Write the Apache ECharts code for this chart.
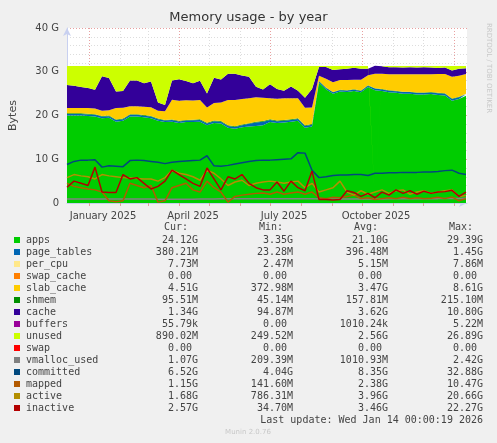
<!DOCTYPE html>
<html>
<head>
<meta charset="utf-8">
<script src="https://cdn.jsdelivr.net/npm/echarts@6/dist/echarts.min.js"></script>
<style>html,body{margin:0;padding:0;background:#f0f0f0}#main{width:497px;height:443px}</style>
</head>
<body>
<div id="main"></div>
<script>
// days since 2024-12-10, one sample per week
var days = [];
for (var d = 0; d < 58; d++) days.push(d * 7);

var TOTAL = 31.3; // physical memory, G

var apps = [20,20,20,19.9,19.8,19.4,19.5,18.6,18.8,19.8,19.8,19.6,19.4,18.8,18.5,18.6,18.3,18.5,18.5,18.6,
  17.8,18.3,18.2,17.2,17.0,17.3,17.5,17.6,17.8,18.5,18.3,18.4,18.6,18.8,17.2,17.5,27.5,26.0,25.0,25.5,
  25.4,25.6,25.3,26.5,25.8,25.6,25.3,25.2,25,25,24.8,24.8,24.9,24.7,24.6,23.4,23.8,24.5];
var pageTables = [0.35,0.35,0.35,0.35,0.35,0.35,0.35,0.35,0.35,0.35,0.35,0.35,0.35,0.35,0.35,0.35,0.35,0.35,0.4,0.4,
  0.4,0.4,0.4,0.4,0.4,0.5,0.6,0.8,0.8,0.5,0.4,0.4,0.4,0.4,0.4,0.4,0.3,0.3,0.3,0.3,
  0.3,0.3,0.3,0.3,0.35,0.35,0.35,0.35,0.35,0.35,0.35,0.35,0.35,0.38,0.38,0.38,0.38,0.38];
var shmem = [0.15,0.15,0.15,0.15,0.15,0.15,0.15,0.15,0.15,0.15,0.15,0.15,0.15,0.15,0.15,0.15,0.15,0.15,0.15,0.15,
  0.15,0.15,0.15,0.15,0.15,0.15,0.15,0.15,0.15,0.15,0.15,0.15,0.15,0.15,0.15,0.15,0.1,0.1,0.1,0.1,
  0.1,0.1,0.1,0.1,0.1,0.1,0.1,0.1,0.1,0.1,0.1,0.1,0.1,0.1,0.1,0.1,0.1,0.1];
var slabCache = [1.2,1.2,1.2,1.3,1.3,1.2,1.2,2.6,2.5,1.8,1.8,1.9,2.0,1.8,2.0,4.5,4.6,4.5,4.4,4.4,
  3.5,4.0,4.2,5.8,6.0,5.8,5.7,5.6,5.3,4.8,5.0,5.0,4.8,4.6,4.0,3.8,1.2,2.0,2.2,2.2,
  2.3,2.2,2.5,2.3,3.3,3.5,3.7,3.8,4.0,4.0,4.2,4.2,4.1,4.3,4.4,5.0,4.8,4.5];
var cache = [5.3,5.1,4.8,4.6,4.3,7.9,7.4,3.8,3.8,5.9,5.9,5.4,5.9,1.9,1.4,4.4,4.9,4.4,3.9,4.4,
  3.2,5.8,5.3,6.0,6.0,5.4,4.9,2.4,1.9,3.2,2.2,1.7,2.7,1.7,2.3,4.2,2.0,2.7,2.8,2.5,
  2.6,2.7,2.5,1.5,1.8,1.7,1.6,1.6,1.5,1.6,1.5,1.6,1.5,1.4,1.5,1.4,1.6,1.3];

var vmalloc = [0.9,0.9,0.9,0.9,0.9,0.9,0.9,0.9,0.9,0.9,0.9,0.9,0.9,0.85,0.85,0.85,0.85,0.85,0.85,0.9,
  0.9,0.9,0.95,0.95,0.95,1.0,1.0,1.0,1.0,1.0,1.0,1.0,1.0,1.0,1.0,1.0,0.9,0.9,0.9,0.9,
  0.9,0.9,0.9,0.9,0.9,0.9,0.95,0.95,0.95,0.95,1.0,1.0,1.0,1.0,1.05,1.05,1.05,1.07];
var committed = [8.8,9.5,9.8,9.8,9.9,8.2,8.5,8.4,8.3,9.7,9.8,9.7,9.5,9.3,9.0,9.3,9.5,9.6,9.7,9.8,
  10.8,8.5,8.4,8.6,8.9,9.2,9.5,9.7,9.8,9.8,9.9,10,10.1,11.5,11.4,7.5,5.8,6.0,6.3,6.4,
  6.4,6.5,6.5,6.3,6.8,6.8,6.9,6.9,7,7,7,7.1,7.1,7.2,7.4,7.5,6.8,6.5];
var mapped = [4.5,3.8,3.5,3.2,3.0,2.5,0.5,0.3,0.5,4.5,4.0,3.5,4.0,0.2,0.5,3.5,4.0,4.5,3.0,2.5,
  5.0,3.5,2.5,0.2,1.5,1.8,2.0,2.2,2.3,2.0,2.5,2.0,2.3,2.5,2.0,2.5,1.2,1.0,1.3,1.2,
  1.5,1.8,1.0,1.2,0.8,1.0,1.2,1.0,1.3,1.0,1.2,1.0,1.1,1.3,1.0,1.4,0.5,1.0];
var active = [5.8,6.5,6.2,6.0,5.5,6.5,6.2,6.0,5.8,5.7,5.6,5.5,5.5,5.0,5.8,7.5,6.8,6.5,6.0,5.2,
  7.5,6.8,5.5,4.0,4.8,5.2,4.0,4.5,4.8,5.0,4.8,4.5,4.8,5.0,3.5,4.5,2.5,3.0,3.5,5.0,
  2.5,1.8,2.8,2.0,2.5,3.0,2.2,2.8,3.0,2.0,2.5,2.8,2.2,2.5,2.8,3.0,1.5,1.7];
var inactive = [3.6,5.0,4.5,4.0,8.2,2.5,2.4,2.4,6.5,5.5,5.8,4.5,3.2,3.8,5.0,7.5,6.5,5.5,4.5,3.8,
  8.0,5.5,3.0,6.0,5.5,6.5,4.5,3.5,3.0,3.0,4.8,2.7,5.0,3.5,2.8,7.3,0.8,0.8,0.7,0.8,
  2.8,2.4,1.5,2.2,1.2,2.5,1.8,3.0,2.2,2.8,2.0,2.7,2.2,2.5,2.6,2.9,1.5,2.5];

var unused = days.map(function (_, i) {
  return +(TOTAL - apps[i] - pageTables[i] - shmem[i] - slabCache[i] - cache[i]).toFixed(2);
});

var monthStarts = [22, 53, 81, 112, 142, 173, 203, 234, 265, 295, 326, 356, 387];
var quarterStarts = [22, 112, 203, 295, 387];
var labelDays = [36, 126, 217, 309];
var labelText = {36: 'January 2025', 126: 'April 2025', 217: 'July 2025', 309: 'October 2025'};

var legendRows = [
  ['apps', '#00cc00', '24.12G', '3.35G', '21.10G', '29.39G'],
  ['page_tables', '#0066b3', '380.21M', '23.28M', '396.48M', '1.45G'],
  ['per_cpu', '#ffe88a', '7.73M', '2.47M', '5.15M', '7.86M'],
  ['swap_cache', '#ff8000', '0.00 ', '0.00 ', '0.00 ', '0.00 '],
  ['slab_cache', '#ffcc00', '4.51G', '372.98M', '3.47G', '8.61G'],
  ['shmem', '#008f00', '95.51M', '45.14M', '157.81M', '215.10M'],
  ['cache', '#330099', '1.34G', '94.87M', '3.62G', '10.80G'],
  ['buffers', '#990099', '55.79k', '0.00 ', '1010.24k', '5.22M'],
  ['unused', '#ccff00', '890.02M', '249.52M', '2.56G', '26.89G'],
  ['swap', '#ff0000', '0.00 ', '0.00 ', '0.00 ', '0.00 '],
  ['vmalloc_used', '#808080', '1.07G', '209.39M', '1010.93M', '2.42G'],
  ['committed', '#00487d', '6.52G', '4.04G', '8.35G', '32.88G'],
  ['mapped', '#b35a00', '1.15G', '141.60M', '2.38G', '10.47G'],
  ['active', '#b38f00', '1.68G', '786.31M', '3.96G', '20.66G'],
  ['inactive', '#b30000', '2.57G', '34.70M', '3.46G', '22.27G']
];

// value first, day second, so the stack runs over the value dimension
function pts(arr) { return days.map(function (x, i) { return [arr[i], x]; }); }

var mono = 'DejaVu Sans Mono';
var graphics = [];
var colRight = [198, 293, 388, 483];
['Cur:', 'Min:', 'Avg:', 'Max:'].forEach(function (h, c) {
  graphics.push({type: 'text', x: colRight[c] - 10, y: 227, style: {text: h, font: '10px ' + mono, fill: '#444', align: 'right', verticalAlign: 'middle'}});
});
legendRows.forEach(function (r, i) {
  var y = 240 + i * 12;
  graphics.push({type: 'rect', shape: {x: 14, y: y - 3, width: 6, height: 6}, style: {fill: r[1]}});
  graphics.push({type: 'text', x: 26, y: y, style: {text: r[0], font: '10px ' + mono, fill: '#444', verticalAlign: 'middle'}});
  for (var c = 0; c < 4; c++) {
    graphics.push({type: 'text', x: colRight[c], y: y, style: {text: r[c + 2], font: '10px ' + mono, fill: '#444', align: 'right', verticalAlign: 'middle'}});
  }
});
graphics.push({type: 'text', x: 483, y: 420, style: {text: 'Last update: Wed Jan 14 00:00:19 2026', font: '10px ' + mono, fill: '#444', align: 'right', verticalAlign: 'middle'}});
graphics.push({type: 'text', x: 248, y: 432, style: {text: 'Munin 2.0.76', font: '7px DejaVu Sans', fill: '#c8c8c8', align: 'center', verticalAlign: 'middle'}});
graphics.push({type: 'text', x: 489, y: 68, rotation: -Math.PI / 2, style: {text: 'RRDTOOL / TOBI OETIKER', font: '7px DejaVu Sans', fill: '#c8c8c8', align: 'center', verticalAlign: 'middle'}});

var areaNames = ['apps', 'page_tables', 'shmem', 'slab_cache', 'cache', 'unused'];
var areaData = [apps, pageTables, shmem, slabCache, cache, unused];
var areaColors = ['#00cc00', '#0066b3', '#008f00', '#ffcc00', '#330099', '#ccff00'];
var lineNames = ['vmalloc_used', 'committed', 'mapped', 'active', 'inactive'];
var lineData = [vmalloc, committed, mapped, active, inactive];
var lineColors = ['#808080', '#00487d', '#b35a00', '#b38f00', '#b30000'];

var series = [];
areaNames.forEach(function (n, i) {
  series.push({name: n, type: 'line', stack: 'mem', data: pts(areaData[i]), encode: {x: 1, y: 0}, symbol: 'none',
    lineStyle: {width: 0}, areaStyle: {color: areaColors[i], opacity: 1}, itemStyle: {color: areaColors[i]}, z: 2});
});
lineNames.forEach(function (n, i) {
  series.push({name: n, type: 'line', data: pts(lineData[i]), encode: {x: 1, y: 0}, symbol: 'none',
    lineStyle: {width: 1.5, color: lineColors[i]}, itemStyle: {color: lineColors[i]}, z: 3});
});

var chart = echarts.init(document.getElementById('main'));
chart.setOption({
  backgroundColor: '#f0f0f0',
  animation: false,
  textStyle: {fontFamily: 'DejaVu Sans'},
  title: {text: 'Memory usage - by year', left: 'center', top: 6, textStyle: {fontSize: 13, fontWeight: 'normal', color: '#333'}},
  grid: {left: 67, right: 30, top: 28, bottom: 240, backgroundColor: '#ffffff', show: true, borderWidth: 0},
  xAxis: [{
    type: 'value', min: 0, max: 400,
    axisLine: {show: true, lineStyle: {color: '#c8d0f0'}, symbol: ['none', 'arrow'], symbolSize: [6, 8]},
    axisTick: {show: true, customValues: monthStarts, length: 3, lineStyle: {color: '#e0a0a0'}},
    axisLabel: {customValues: labelDays, formatter: function (v) { return labelText[v] || ''; }, color: '#444', fontSize: 10, margin: 8},
    splitLine: {show: true, lineStyle: {color: '#dddddd', type: [1, 2], width: 1}}
  }, {
    type: 'value', min: 0, max: 400, position: 'bottom',
    axisLine: {show: false}, axisLabel: {show: false},
    axisTick: {show: false, customValues: quarterStarts},
    splitLine: {show: true, lineStyle: {color: '#e8a0a0', type: [1, 2], width: 1}}
  }],
  yAxis: {
    type: 'value', min: 0, max: 40, interval: 10,
    name: 'Bytes', nameLocation: 'middle', nameGap: 48, nameRotate: 90, nameTextStyle: {color: '#444', fontSize: 11},
    axisLine: {show: true, lineStyle: {color: '#c8d0f0'}, symbol: ['none', 'arrow'], symbolSize: [6, 8]},
    axisTick: {show: false},
    axisLabel: {color: '#444', fontSize: 10, formatter: function (v) { return v === 0 ? '0' : v + ' G'; }},
    splitLine: {show: true, lineStyle: {color: '#e8a0a0', type: [1, 2]}},
    minorTick: {show: false, splitNumber: 5},
    minorSplitLine: {show: true, lineStyle: {color: '#dddddd', type: [1, 2]}}
  },
  series: series,
  graphic: graphics
});
</script>
</body>
</html>
